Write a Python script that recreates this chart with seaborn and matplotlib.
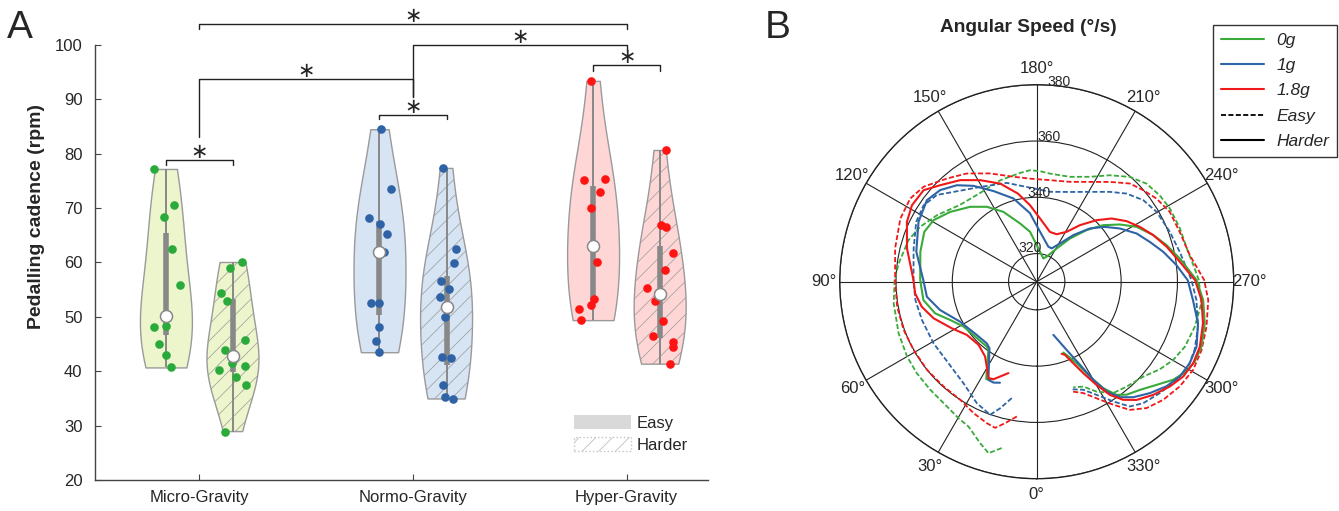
import numpy as np
import pandas as pd
import matplotlib
matplotlib.use('Agg')
import matplotlib.pyplot as plt
import matplotlib.colors as mcolors
from matplotlib.patches import Patch
from matplotlib.lines import Line2D
from matplotlib.transforms import offset_copy
import seaborn as sns

# ── DATA: panel A, pedalling cadence (rpm) ─────────────
gravity_levels = ['Micro-Gravity', 'Normo-Gravity', 'Hyper-Gravity']
difficulty_levels = ['Easy', 'Harder']

micro_easy = [77.2, 70.5, 68.4, 62.5, 55.9, 50.2, 48.4, 48.2, 45.0, 43.0, 40.7]
micro_harder = [60.0, 59.0, 54.3, 52.9, 45.7, 43.9, 41.6, 41.0, 40.2, 39.0, 37.5, 28.9]
normo_easy = [84.5, 73.6, 68.1, 67.1, 65.2, 62.0, 52.6, 52.6, 48.1, 45.6, 43.5]
normo_harder = [77.3, 62.4, 59.9, 56.6, 55.1, 53.7, 49.9, 42.7, 42.4, 37.5, 35.3, 34.9]
hyper_easy = [93.4, 75.3, 75.2, 72.9, 70.1, 63.0, 60.0, 53.2, 52.2, 51.4, 49.4]
hyper_harder = [80.6, 66.9, 66.6, 61.8, 58.7, 55.4, 52.9, 49.3, 46.4, 45.4, 44.4, 41.3]

# significance brackets: (left group, left side, right group, right side, bar y, left foot y, right foot y)
sig_brackets = [
    (0, -1, 0, 1, 78.85, 77.9, 77.9),
    (1, -1, 1, 1, 87.1, 86.4, 86.4),
    (2, -1, 2, 1, 96.3, 95.3, 95.3),
    (0, 0, 1, 0, 93.8, 83.0, 90.5),
    (1, 0, 2, 0, 100.0, 90.5, 99.1),
    (0, 0, 2, 0, 103.8, 102.9, 102.9),
]

# ── DATA: panel B, angular speed (deg/s) vs crank angle (deg) ──
theta_0g_harder = [23.9, 27.4, 35.3, 37.6, 48.3, 58.5, 66.1, 72.7, 80.8, 90.8, 104.4, 113.9, 120.8, 128.9,
                   138.4, 146.3, 154.5, 164.1, 172.4, 182.9, 196.0, 201.8, 211.0, 217.6, 224.0, 229.6,
                   235.5, 241.2, 248.2, 254.2, 260.8, 269.4, 276.3, 283.9, 291.5, 296.8, 301.0, 305.7,
                   310.7, 316.4, 321.5, 324.8, 328.0, 330.7, 333.9, 337.8, 339.4]
speed_0g_harder = [347.9, 349.0, 339.7, 339.1, 339.3, 340.5, 343.6, 347.8, 350.8, 351.4, 352.7, 353.7, 352.7,
                   349.5, 345.6, 342.0, 337.5, 331.5, 327.9, 321.8, 318.6, 319.6, 323.8, 329.4, 335.5, 341.0,
                   345.9, 350.5, 354.6, 357.9, 361.5, 366.8, 369.5, 371.5, 372.9, 372.9, 372.0, 369.7,
                   366.2, 363.1, 361.3, 359.2, 354.6, 348.7, 342.3, 338.1, 336.9]

theta_1g_harder = [20.0, 23.2, 26.2, 35.4, 39.0, 48.4, 62.4, 73.7, 82.2, 90.8, 104.0, 116.9, 126.6, 133.5,
                   140.4, 146.6, 154.5, 164.4, 174.3, 183.8, 198.4, 204.2, 211.3, 218.2, 225.0, 231.2,
                   237.4, 244.2, 250.6, 256.7, 263.2, 269.5, 276.7, 284.5, 292.1, 298.0, 303.5, 308.9,
                   314.6, 320.1, 324.2, 327.5, 330.0, 332.5, 336.3, 342.6]
speed_1g_harder = [348.2, 349.0, 348.9, 339.0, 338.2, 338.5, 340.7, 345.8, 349.4, 350.3, 354.1, 357.1, 358.6,
                   357.3, 354.5, 350.8, 345.7, 340.7, 334.5, 327.8, 323.1, 323.0, 325.9, 331.1, 336.8, 341.1,
                   345.1, 349.4, 352.6, 356.2, 360.0, 363.7, 365.9, 369.2, 371.3, 371.6, 371.0, 369.2,
                   366.4, 363.5, 360.6, 356.3, 350.3, 343.3, 336.5, 329.8]

theta_18g_harder = [17.2, 23.9, 26.6, 30.5, 34.6, 42.6, 52.7, 61.2, 70.5, 77.7, 84.5, 90.8, 104.4, 114.8,
                    121.5, 129.0, 135.0, 143.0, 150.9, 159.6, 168.0, 175.0, 183.0, 194.9, 202.8, 211.0,
                    217.4, 224.2, 229.8, 236.0, 242.0, 248.2, 254.9, 262.0, 269.5, 276.3, 284.0, 291.7,
                    297.5, 302.9, 308.2, 314.2, 319.8, 323.8, 327.1, 329.9, 333.0, 335.8, 338.9, 340.9]
speed_18g_harder = [344.0, 347.9, 348.3, 345.0, 342.3, 340.5, 341.2, 344.4, 348.9, 351.8, 353.4, 353.8,
                    357.6, 360.8, 362.0, 361.7, 358.5, 355.2, 351.3, 347.2, 342.0, 337.3, 332.5, 328.3,
                    328.3, 330.7, 335.3, 340.5, 344.8, 348.5, 351.5, 354.6, 357.8, 361.3, 366.3, 368.9,
                    370.9, 372.4, 372.7, 372.0, 370.2, 367.7, 365.0, 362.0, 357.9, 352.4, 346.5, 341.8,
                    337.9, 337.1]

theta_0g_easy = [11.9, 15.7, 19.3, 25.2, 29.8, 35.8, 44.6, 52.6, 60.0, 69.5, 81.4, 90.7, 97.5, 108.0, 115.2,
                 123.7, 135.0, 147.5, 160.2, 171.3, 176.6, 181.7, 187.0, 197.6, 206.9, 214.5, 221.6, 228.2,
                 234.9, 241.2, 249.6, 258.8, 264.0, 269.4, 277.5, 285.9, 293.7, 299.8, 305.4, 311.7, 319.4,
                 325.5, 331.4, 336.0, 340.9]
speed_0g_easy = [370.4, 373.3, 370.8, 366.9, 365.9, 364.6, 363.9, 363.6, 363.2, 362.4, 361.4, 360.5, 359.5,
                 357.9, 355.8, 352.6, 348.6, 347.4, 348.3, 349.1, 349.7, 349.3, 348.7, 349.1, 351.8, 355.9,
                 359.8, 362.3, 363.4, 364.0, 364.3, 364.8, 366.0, 367.6, 369.0, 368.4, 367.5, 365.9, 363.7,
                 360.7, 359.1, 358.0, 354.5, 350.8, 349.7]

theta_1g_easy = [12.1, 16.1, 19.3, 26.3, 35.8, 47.2, 59.2, 71.6, 81.4, 90.8, 105.1, 116.4, 124.0, 131.0,
                 137.2, 149.2, 163.1, 176.0, 188.4, 200.3, 210.6, 219.2, 225.5, 232.6, 239.7, 249.4, 258.2,
                 269.4, 276.5, 285.6, 293.3, 299.3, 305.1, 312.2, 318.8, 323.3, 327.4, 332.1, 336.7, 342.0]
speed_1g_easy = [352.3, 356.8, 360.1, 358.1, 354.5, 352.7, 352.7, 353.0, 353.6, 353.8, 355.3, 357.8, 358.5,
                 357.0, 353.5, 349.2, 346.7, 343.5, 342.3, 344.0, 347.1, 351.2, 354.7, 357.7, 359.3, 360.5,
                 361.9, 365.0, 367.1, 369.5, 371.1, 371.7, 370.7, 369.0, 367.4, 365.3, 360.5, 355.5,
                 351.8, 350.2]

theta_18g_easy = [8.4, 12.6, 15.9, 19.4, 25.7, 32.9, 41.6, 51.2, 61.0, 70.1, 79.9, 90.7, 103.2, 114.9, 123.3,
                  130.0, 139.0, 147.1, 156.7, 167.5, 176.3, 187.5, 198.4, 208.1, 216.3, 223.5, 229.3, 235.2,
                  242.3, 250.8, 260.1, 269.4, 276.1, 284.8, 292.5, 299.4, 306.2, 313.0, 319.0, 324.0, 328.1,
                  332.8, 337.3, 342.4]
speed_18g_easy = [358.4, 361.5, 364.0, 363.3, 361.8, 360.0, 359.8, 360.0, 360.0, 360.3, 360.4, 360.3, 361.7,
                  363.4, 363.8, 362.5, 358.6, 355.8, 351.9, 348.2, 346.7, 346.4, 347.4, 350.2, 354.0, 358.1,
                  359.9, 361.8, 363.4, 363.8, 365.2, 369.5, 371.3, 372.4, 373.4, 373.8, 373.0, 371.5,
                  369.5, 366.3, 361.5, 356.6, 352.9, 350.9]

radial_ticks = [320, 340, 360, 380]

# ── STYLE ──────────────────────────────────────────────
sns.set_style('ticks')
plt.rcParams['font.family'] = ['Liberation Sans', 'DejaVu Sans']
plt.rcParams['hatch.linewidth'] = 0.5

fill_colors = ['#ecf5cb', '#d6e4f3', '#ffd6d6']
point_colors = ['#2aaa3a', '#2f63a6', '#ff1414']
line_colors = {'0g': '#3aaa3a', '1g': '#2e64a6', '1.8g': '#f01818'}
edge_gray = '#9a9a9a'
hatch_gray = '#b4b4b4'
box_gray = '#888888'
violin_width = 0.628
violin_offset = violin_width / 4
dash = (0, (2.8, 1.3))


def light_hatch(artist):
    # hatch lighter than the outline
    if hasattr(artist, 'set_hatchcolor'):
        artist.set_hatchcolor(hatch_gray)
    else:
        artist._hatch_color = mcolors.to_rgba(hatch_gray)


# ── BUILD TABLE ────────────────────────────────────────
groups = {
    ('Micro-Gravity', 'Easy'): micro_easy, ('Micro-Gravity', 'Harder'): micro_harder,
    ('Normo-Gravity', 'Easy'): normo_easy, ('Normo-Gravity', 'Harder'): normo_harder,
    ('Hyper-Gravity', 'Easy'): hyper_easy, ('Hyper-Gravity', 'Harder'): hyper_harder,
}
rows = []
for (g, d), vals in groups.items():
    for v in vals:
        rows.append({'gravity': g, 'difficulty': d, 'cadence': v})
df = pd.DataFrame(rows)

fig = plt.figure(figsize=(13.39, 5.11), dpi=100)

# ── PANEL A: VIOLINS ───────────────────────────────────
ax = fig.add_axes([0.07095, 0.06067, 0.4578, 0.8513])
sns.violinplot(data=df, x='gravity', y='cadence', hue='difficulty',
               order=gravity_levels, hue_order=difficulty_levels,
               palette={'Easy': '#dddddd', 'Harder': '#dddddd'},
               density_norm='width', cut=0, inner=None, width=violin_width, gap=0.225,
               bw_adjust=1.25, linewidth=1, linecolor=edge_gray, legend=False, ax=ax)
n_violin = len(ax.collections)
for coll in ax.collections:
    xc = coll.get_paths()[0].vertices[:, 0].mean()
    gi = int(round(xc))
    coll.set_facecolor(fill_colors[gi])
    coll.set_edgecolor(edge_gray)
    if xc > gi:
        coll.set_hatch('//')
        light_hatch(coll)

np.random.seed(7)
sns.stripplot(data=df, x='gravity', y='cadence', hue='difficulty',
              order=gravity_levels, hue_order=difficulty_levels,
              palette={'Easy': 'k', 'Harder': 'k'}, dodge=True, jitter=0.17,
              size=6.2, linewidth=0, legend=False, ax=ax, zorder=3)
# squeeze the stock dodge (+-0.2) to the violin positions
for coll in ax.collections[n_violin:]:
    off = np.array(coll.get_offsets())
    if len(off) == 0:
        continue
    gi = int(round(off[:, 0].mean()))
    side = np.sign(off[:, 0].mean() - gi)
    off[:, 0] = gi + side * violin_offset + (off[:, 0] - (gi + side * 0.2)) * 0.785
    coll.set_offsets(off)
    coll.set_facecolor(point_colors[gi])

# inner box: range line, IQR bar, median dot
for gi, g in enumerate(gravity_levels):
    for hi, d in enumerate(difficulty_levels):
        vals = np.array(groups[(g, d)])
        xpos = gi + (2 * hi - 1) * violin_offset
        q1, med, q3 = np.percentile(vals, [25, 50, 75])
        ax.plot([xpos, xpos], [vals.min(), vals.max()], color=box_gray, lw=1.4,
                solid_capstyle='butt', zorder=2.5)
        ax.plot([xpos, xpos], [q1, q3], color=box_gray, lw=4.0, solid_capstyle='butt', zorder=2.6)
        ax.scatter([xpos], [med], s=75, color='white', edgecolor=box_gray, linewidth=1.1, zorder=5)

for lg, ls, rg, rs, yb, yl, yr in sig_brackets:
    xl = lg + ls * violin_offset
    xr = rg + rs * violin_offset
    ax.plot([xl, xl, xr, xr], [yl, yb, yb, yr], color='#222222', lw=1, clip_on=False)
    ax.text((xl + xr) / 2, yb + 0.35, '\u2217', ha='center', va='baseline', fontsize=15,
            family='DejaVu Sans', clip_on=False)

ax.set_xlim(-0.489, 2.381)
ax.set_ylim(20, 100)
ax.set_yticks(range(20, 101, 10))
ax.set_xlabel('')
ax.set_ylabel('Pedalling cadence (rpm)', fontsize=14, fontweight='bold')
ax.yaxis.set_label_coords(-0.082, 0.605)
sns.despine(ax=ax)
for s in ['left', 'bottom']:
    ax.spines[s].set_color('#444444')
    ax.spines[s].set_linewidth(1)
ax.tick_params(axis='both', direction='in', length=4, color='#444444', labelsize=12)
ax.tick_params(axis='y', pad=9)
ax.tick_params(axis='x', pad=7)

harder_patch = Patch(facecolor='white', edgecolor='#c4c4c4', hatch='//', linestyle=':', label='Harder')
light_hatch(harder_patch)
leg_handles = [Patch(facecolor='#d9d9d9', edgecolor='none', label='Easy'), harder_patch]
ax.legend(handles=leg_handles, loc='upper left', bbox_to_anchor=(574 / 1339, 1 - 415 / 511),
          bbox_transform=fig.transFigure, frameon=False, fontsize=12, handlelength=3.4,
          handleheight=0.9, handletextpad=0.35, labelspacing=0.38, borderpad=0, borderaxespad=0)

fig.text(7 / 1339, 1 - 38 / 511, 'A', fontsize=28, ha='left', va='baseline')
fig.text(765 / 1339, 1 - 38 / 511, 'B', fontsize=28, ha='left', va='baseline')

# ── PANEL B: POLAR ─────────────────────────────────────
pax = fig.add_axes([0.6271, 0.0632, 0.2943, 0.7710], projection='polar')
pax.set_theta_zero_location('S')
pax.set_theta_direction(-1)

curves = [
    (theta_0g_easy, speed_0g_easy, '0g', dash),
    (theta_1g_easy, speed_1g_easy, '1g', dash),
    (theta_18g_easy, speed_18g_easy, '1.8g', dash),
    (theta_0g_harder, speed_0g_harder, '0g', '-'),
    (theta_1g_harder, speed_1g_harder, '1g', '-'),
    (theta_18g_harder, speed_18g_harder, '1.8g', '-'),
]
for th, sp, g, ls in curves:
    sns.lineplot(x=np.deg2rad(th), y=sp, ax=pax, color=line_colors[g], linestyle=ls,
                 lw=1.3 if ls is dash else 1.5, sort=False, estimator=None)

pax.set_ylim(310, 380)
pax.set_yticks(radial_ticks)
pax.set_yticklabels([])
rlab_tf = offset_copy(pax.transData, fig=fig, x=-12, y=6, units='dots')
for r in radial_ticks:
    pax.text(np.deg2rad(190), r, str(r), transform=rlab_tf, fontsize=10, ha='center', va='center')
pax.set_xticks(np.deg2rad(np.arange(0, 360, 30)))
pax.set_xticklabels([f'{a}\u00b0' for a in range(0, 360, 30)], fontsize=12)
pax.tick_params(axis='x', pad=1)
pax.grid(True, color='#222222', lw=0.8)
pax.spines['polar'].set_color('#222222')
pax.spines['polar'].set_linewidth(1)
pax.set_xlabel('')
pax.set_ylabel('')

fig.text(1028 / 1339, 1 - 27 / 511, 'Angular Speed (\u00b0/s)', fontsize=13.8, fontweight='bold',
         ha='center', va='center')

pol_handles = [Line2D([], [], color=line_colors['0g'], lw=1.5, label='0g'),
               Line2D([], [], color=line_colors['1g'], lw=1.5, label='1g'),
               Line2D([], [], color=line_colors['1.8g'], lw=1.5, label='1.8g'),
               Line2D([], [], color='black', lw=1.3, linestyle=dash, label='Easy'),
               Line2D([], [], color='black', lw=1.5, label='Harder')]
fig.legend(handles=pol_handles, loc='upper right', bbox_to_anchor=(1337 / 1339, 1 - 25 / 511),
           frameon=True, fancybox=False, edgecolor='#333333', framealpha=1,
           prop={'style': 'italic', 'size': 12.5}, handlelength=2.5, handletextpad=0.7,
           labelspacing=0.58, borderpad=0.45, borderaxespad=0)

fig.savefig('out.png', dpi=100)
